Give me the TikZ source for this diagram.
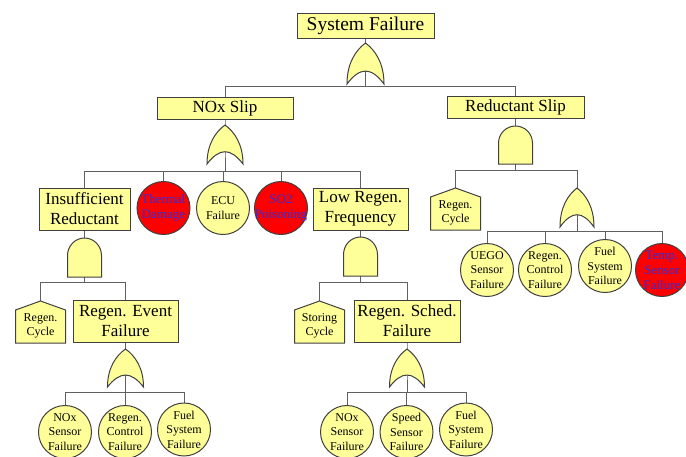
\documentclass[tikz,border=0pt]{standalone}
\usepackage{fontspec}
\setmainfont{Liberation Serif}
\usetikzlibrary{backgrounds}
\definecolor{yel}{HTML}{FFFF99}
\definecolor{bord}{HTML}{404040}
\definecolor{wire}{HTML}{606060}
\definecolor{redev}{HTML}{FF0000}
\definecolor{bluetxt}{HTML}{3030D8}
\tikzset{
 evbox/.style={draw=bord, fill=yel, line width=1pt, inner sep=0pt, align=center, font=\fontsize{17}{20}\selectfont},
 topbox/.style={evbox, font=\fontsize{19.5}{22}\selectfont},
 circev/.style={circle, draw=bord, fill=yel, line width=1pt, inner sep=0pt, minimum size=53},
 redcirc/.style={circev, fill=redev},
 ctext/.style={align=center, inner sep=0pt, font=\fontsize{12}{14.5}\selectfont},
 rtext/.style={align=center, inner sep=0pt, text=bluetxt, font=\fontsize{13}{15}\selectfont},
 gatepath/.style={draw=bord, fill=yel, line width=1pt},
 gatenode/.style={inner sep=0pt, draw=none},
 housepath/.style={draw=bord, fill=yel, line width=1pt},
 housetext/.style={align=center, inner sep=0pt, font=\fontsize{12}{14.5}\selectfont},
 conn/.style={draw=wire, line width=1pt},
}
\newcommand\orgate[5]{%
 \pgfmathsetmacro\fgL{#2-#5/2}%
 \pgfmathsetmacro\fgR{#2+#5/2}%
 \pgfmathsetmacro\fgH{#4-#3}%
 \path[gatepath] (\fgL,#4) .. controls (\fgL,#4-0.5*\fgH) and (#2-0.27*#5,#3+0.18*\fgH) .. (#2,#3)
   .. controls (#2+0.27*#5,#3+0.18*\fgH) and (\fgR,#4-0.5*\fgH) .. (\fgR,#4)
   .. controls (#2+0.15*#5,#4-0.42*\fgH) and (#2-0.15*#5,#4-0.42*\fgH) .. (\fgL,#4) -- cycle;
 \node[gatenode, minimum width=#5, minimum height=\fgH] (#1) at (#2,{(#3+#4)/2}) {};%
}
\newcommand\andgate[5]{%
 \pgfmathsetmacro\fgL{#2-#5/2}%
 \pgfmathsetmacro\fgR{#2+#5/2}%
 \pgfmathsetmacro\fgH{#4-#3}%
 \pgfmathsetmacro\fgM{#3+0.45*\fgH}%
 \pgfmathsetmacro\fgK{0.552*0.45*\fgH}%
 \pgfmathsetmacro\fgX{0.552*#5/2}%
 \path[gatepath] (\fgL,#4) -- (\fgL,\fgM) .. controls (\fgL,\fgM-\fgK) and (#2-\fgX,#3) .. (#2,#3)
   .. controls (#2+\fgX,#3) and (\fgR,\fgM-\fgK) .. (\fgR,\fgM) -- (\fgR,#4) -- cycle;
 \node[gatenode, minimum width=#5, minimum height=\fgH] (#1) at (#2,{(#3+#4)/2}) {};%
}
\newcommand\house[4]{%
 \path[housepath] (#2-25,#3+9) -- (#2,#3) -- (#2+25,#3+9) -- (#2+25,#3+42) -- (#2-25,#3+42) -- cycle;
 \node[housetext] (#1) at (#2,#3+25) {#4};%
}
\begin{document}
\begin{tikzpicture}[x=1pt, y=-1pt]
\useasboundingbox (0,0) rectangle (686,456);
% intermediate events
\node[topbox, minimum width=137, minimum height=25] (sys) at (365.5,25.5) {System Failure};
\node[evbox, minimum width=136, minimum height=22] (nox) at (225,108) {NOx Slip};
\node[evbox, minimum width=137, minimum height=22] (red) at (515.5,107.5) {Reductant Slip};
\node[evbox, minimum width=91, minimum height=42] (insuf) at (84.5,209) {Insufficient\\Reductant};
\node[evbox, minimum width=95, minimum height=42] (lowreg) at (360.5,209) {Low Regen.\\Frequency};
\node[evbox, minimum width=105, minimum height=42] (regev) at (125.5,321) {Regen. Event\\Failure};
\node[evbox, minimum width=106, minimum height=42] (regsch) at (407,321) {Regen. Sched.\\Failure};
% gates
\orgate{g0}{365.5}{43}{84}{37}
\orgate{g1}{225}{125}{164}{36}
\andgate{g2}{515.5}{126}{164}{34}
\andgate{g3}{84.5}{238}{277}{34}
\orgate{g4}{577}{188}{227}{34}
\andgate{g5}{360.5}{237}{276}{34}
\orgate{g6}{125.5}{349}{387}{36}
\orgate{g7}{407}{349}{387}{35}
% house events
\house{hc1}{455.5}{188}{Regen.\\Cycle}
\house{hc2}{40.5}{301}{Regen.\\Cycle}
\house{hc3}{319.5}{301}{Storing\\Cycle}
% basic events
\node[redcirc, label={[rtext]center:{Thermal\\Damage}}] (therm) at (163.5,208) {};
\node[circev, label={[ctext]center:{ECU\\Failure}}] (ecu) at (223,208) {};
\node[redcirc, label={[rtext]center:{SO2\\Poisoning}}] (so2) at (281,208) {};
\node[circev, label={[ctext]center:{UEGO\\Sensor\\Failure}}] (uego) at (487,270) {};
\node[circev, label={[ctext]center:{Regen.\\Control\\Failure}}] (rc1) at (545,270) {};
\node[circev, label={[ctext]center:{Fuel\\System\\Failure}}] (fs1) at (605,266) {};
\node[redcirc, label={[rtext]center:{Temp.\\Sensor\\Failure}}] (temp) at (662,270) {};
\node[circev, label={[ctext]center:{NOx\\Sensor\\Failure}}] (nx2) at (65,432) {};
\node[circev, label={[ctext]center:{Regen.\\Control\\Failure}}] (rc2) at (125,432) {};
\node[circev, label={[ctext]center:{Fuel\\System\\Failure}}] (fs2) at (184,429.5) {};
\node[circev, label={[ctext]center:{NOx\\Sensor\\Failure}}] (nx3) at (347,432) {};
\node[circev, label={[ctext]center:{Speed\\Sensor\\Failure}}] (sp) at (406.5,432) {};
\node[circev, label={[ctext]center:{Fuel\\System\\Failure}}] (fs3) at (466,429.5) {};
% bus points
\coordinate (b0) at (365.5,86);
\coordinate (b1) at (225,171);
\coordinate (b2) at (515.5,170);
\coordinate (b3) at (84.5,282);
\coordinate (b4) at (577,231);
\coordinate (b5) at (360.5,282);
\coordinate (b6) at (125.5,392);
\coordinate (b7) at (407,392);
\begin{scope}[on background layer]
\draw[conn] (sys.center) -- (g0.center) -- (b0);
\draw[conn] (b0) -| (nox.center);
\draw[conn] (b0) -| (red.center);
\draw[conn] (nox.center) -- (g1.center) -- (b1);
\draw[conn] (b1) -| (insuf.center);
\draw[conn] (b1) -| (therm.center);
\draw[conn] (b1) -| (ecu.center);
\draw[conn] (b1) -| (so2.center);
\draw[conn] (b1) -| (lowreg.center);
\draw[conn] (red.center) -- (g2.center) -- (b2);
\draw[conn] (b2) -| (hc1.center);
\draw[conn] (b2) -| (g4.center);
\draw[conn] (g4.center) -- (b4);
\draw[conn] (b4) -| (uego.center);
\draw[conn] (b4) -| (rc1.center);
\draw[conn] (b4) -| (fs1.center);
\draw[conn] (b4) -| (temp.center);
\draw[conn] (insuf.center) -- (g3.center) -- (b3);
\draw[conn] (b3) -| (hc2.center);
\draw[conn] (b3) -| (regev.center);
\draw[conn] (regev.center) -- (g6.center) -- (b6);
\draw[conn] (b6) -| (nx2.center);
\draw[conn] (b6) -| (rc2.center);
\draw[conn] (b6) -| (fs2.center);
\draw[conn] (lowreg.center) -- (g5.center) -- (b5);
\draw[conn] (b5) -| (hc3.center);
\draw[conn] (b5) -| (regsch.center);
\draw[conn] (regsch.center) -- (g7.center) -- (b7);
\draw[conn] (b7) -| (nx3.center);
\draw[conn] (b7) -| (sp.center);
\draw[conn] (b7) -| (fs3.center);
\end{scope}
\end{tikzpicture}
\end{document}
